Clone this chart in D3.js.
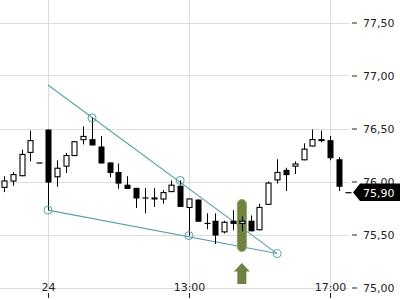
<!DOCTYPE html>
<html>
<head>
<meta charset="utf-8">
<script src="https://cdn.jsdelivr.net/npm/d3@7"></script>
<style>
  html, body { margin: 0; padding: 0; background: #fff; }
  svg { display: block; }
  text { font-family: "DejaVu Sans", sans-serif; }
</style>
</head>
<body>
<svg id="chart" width="400" height="300"></svg>
<script>
// ---- data (15-minute candles) ----
const times = ["23 16:30","23 16:45","23 17:00","23 17:15","23 17:30",
  "24 09:00","24 09:15","24 09:30","24 09:45","24 10:00","24 10:15","24 10:30","24 10:45",
  "24 11:00","24 11:15","24 11:30","24 11:45","24 12:00","24 12:15","24 12:30","24 12:45",
  "24 13:00","24 13:15","24 13:30","24 13:45","24 14:00","24 14:15","24 14:30","24 14:45",
  "24 15:00","24 15:15","24 15:30","24 15:45","24 16:00","24 16:15","24 16:30","24 16:45",
  "24 17:00","24 17:15","24 17:30"];
const open  = [75.94,76.00,76.05,76.27,76.18,76.49,76.04,76.14,76.24,76.39,76.40,76.33,76.18,
  76.09,75.97,75.94,75.85,75.85,75.83,75.90,75.96,75.75,75.83,75.61,75.63,75.52,75.63,75.60,
  75.63,75.54,75.78,76.01,76.11,76.14,76.20,76.33,76.39,76.39,76.21,75.90];
const high  = [76.05,76.09,76.30,76.48,76.18,76.49,76.20,76.27,76.38,76.52,76.60,76.43,76.18,
  76.17,76.05,75.94,75.94,75.94,75.92,76.01,76.01,75.84,75.83,75.70,75.70,75.63,75.73,75.67,
  75.68,75.79,76.00,76.21,76.13,76.19,76.36,76.49,76.48,76.43,76.23,75.90];
const low   = [75.90,75.96,76.05,76.19,76.18,75.73,75.95,76.08,76.24,76.35,76.34,76.17,76.04,
  75.93,75.93,75.75,75.70,75.76,75.79,75.90,75.76,75.49,75.62,75.55,75.41,75.51,75.54,75.53,
  75.53,75.54,75.78,75.98,75.91,76.07,76.20,76.33,76.37,76.20,75.91,75.90];
const close = [76.01,76.07,76.26,76.39,76.18,75.99,76.13,76.25,76.38,76.43,76.34,76.17,76.08,
  75.98,75.93,75.84,75.84,75.83,75.90,75.97,75.76,75.84,75.62,75.60,75.49,75.62,75.60,75.63,
  75.53,75.76,75.99,76.09,76.06,76.17,76.31,76.40,76.40,76.22,75.95,75.90];

const priceTicks = [75.00, 75.50, 76.00, 76.50, 77.00, 77.50];
const timeTickIndex = [5, 21, 37];
const timeTickLabels = ["24", "13:00", "17:00"];
const lastPrice = 75.90;

// trend lines (index, price)
const upperLine = [[5, 76.91], [31, 75.32]];
const lowerLine = [[5, 75.73], [31, 75.32]];
const anchorPoints = [[5, 75.73], [10, 76.60], [20, 76.01], [21, 75.49], [31, 75.32]];
const highlightIndex = 27;
const highlightRange = [75.34, 75.83];

// ---- layout ----
const svg = d3.select("#chart");
const W = 400, H = 300;
const x = d3.scaleLinear().domain([0, times.length - 1]).range([3.94, 347.6]);
const y = d3.scaleLinear().domain([75, 77.5]).range([287.5, 22.5]);
const fmt = v => d3.format(".2f")(v).replace(".", ",");
const teal = "#5ba0a8";
const green = "#6e8342";

// grid
const grid = svg.append("g");
grid.selectAll("line.h").data(priceTicks).join("line")
  .attr("x1", 0).attr("x2", 349)
  .attr("y1", d => Math.round(y(d)) + 0.5).attr("y2", d => Math.round(y(d)) + 0.5)
  .attr("stroke", "#dcdcdc").attr("stroke-width", 1);
grid.selectAll("line.v").data(timeTickIndex).join("line")
  .attr("x1", d => Math.round(x(d)) + 0.5).attr("x2", d => Math.round(x(d)) + 0.5)
  .attr("y1", 0).attr("y2", 292)
  .attr("stroke", "#dcdcdc").attr("stroke-width", 1);

// trend lines
const lineGen = d3.line().x(d => x(d[0])).y(d => y(d[1]));
[upperLine, lowerLine].forEach(l => {
  svg.append("path").attr("d", lineGen(l)).attr("fill", "none")
    .attr("stroke", teal).attr("stroke-width", 1.1);
});

// highlight pill
svg.append("rect")
  .attr("x", x(highlightIndex) - 4.5).attr("width", 9)
  .attr("y", y(highlightRange[1])).attr("height", y(highlightRange[0]) - y(highlightRange[1]))
  .attr("rx", 4.5).attr("ry", 4.5)
  .attr("fill", green).attr("stroke", "#8fa065").attr("stroke-width", 1);

// arrow
const ax = x(highlightIndex);
svg.append("path")
  .attr("d", `M${ax},263 L${ax + 8},271.5 L${ax + 4.5},271.5 L${ax + 4.5},284 L${ax - 4.5},284 L${ax - 4.5},271.5 L${ax - 8},271.5 Z`)
  .attr("fill", green);

// candles
const idx = d3.range(times.length);
const cg = svg.append("g");
cg.selectAll("line.wick").data(idx).join("line")
  .attr("x1", i => Math.round(x(i)) + 0.5).attr("x2", i => Math.round(x(i)) + 0.5)
  .attr("y1", i => y(high[i])).attr("y2", i => y(low[i]))
  .attr("stroke", "#000").attr("stroke-width", 1);
cg.selectAll("rect.body").data(idx).join("rect")
  .attr("x", i => Math.round(x(i)) - 2.5 + (close[i] >= open[i] && close[i] !== open[i] ? 0.5 : 0))
  .attr("width", i => close[i] > open[i] ? 5 : 6)
  .attr("y", i => {
    const t = y(Math.max(open[i], close[i]));
    return close[i] > open[i] ? t + 0.5 : t;
  })
  .attr("height", i => {
    const h = Math.abs(y(open[i]) - y(close[i]));
    if (close[i] > open[i]) return Math.max(h - 1, 1);
    return Math.max(h, 1.2);
  })
  .attr("fill", i => close[i] > open[i] ? "#fff" : "#000")
  .attr("stroke", i => close[i] > open[i] ? "#000" : "none")
  .attr("stroke-width", 1.1);

// anchor circles
svg.selectAll("circle.anchor").data(anchorPoints).join("circle")
  .attr("cx", d => x(d[0])).attr("cy", d => y(d[1])).attr("r", 4)
  .attr("fill", "none").attr("stroke", teal).attr("stroke-width", 1);

// price axis
const ya = svg.append("g").attr("transform", "translate(352,0)")
  .call(d3.axisRight(y).tickValues(priceTicks).tickFormat(fmt).tickSize(5).tickPadding(6));
ya.select(".domain").remove();
ya.selectAll(".tick line").attr("stroke", "#222");
ya.selectAll(".tick text").attr("fill", "#222").attr("font-size", 11)
  .attr("font-family", "DejaVu Sans, sans-serif");

// time axis labels
const xa = svg.append("g");
xa.selectAll("text").data(timeTickIndex).join("text")
  .attr("x", d => Math.round(x(d)) + 0.5).attr("y", 291)
  .attr("text-anchor", "middle").attr("font-size", 11).attr("fill", "#222")
  .text((d, i) => timeTickLabels[i]);
xa.selectAll("line").data(timeTickIndex).join("line")
  .attr("x1", d => Math.round(x(d)) + 0.5).attr("x2", d => Math.round(x(d)) + 0.5)
  .attr("y1", 293).attr("y2", 298).attr("stroke", "#222");

// last price tag
const ly = y(lastPrice);
svg.append("path")
  .attr("d", `M353,${ly + 0.5} L360,${ly - 8.5} L400,${ly - 8.5} L400,${ly + 9} L360,${ly + 9} Z`)
  .attr("fill", "#000");
svg.append("text").attr("x", 363).attr("y", ly + 4.5)
  .attr("font-size", 11).attr("fill", "#fff").text(fmt(lastPrice));
</script>
</body>
</html>
